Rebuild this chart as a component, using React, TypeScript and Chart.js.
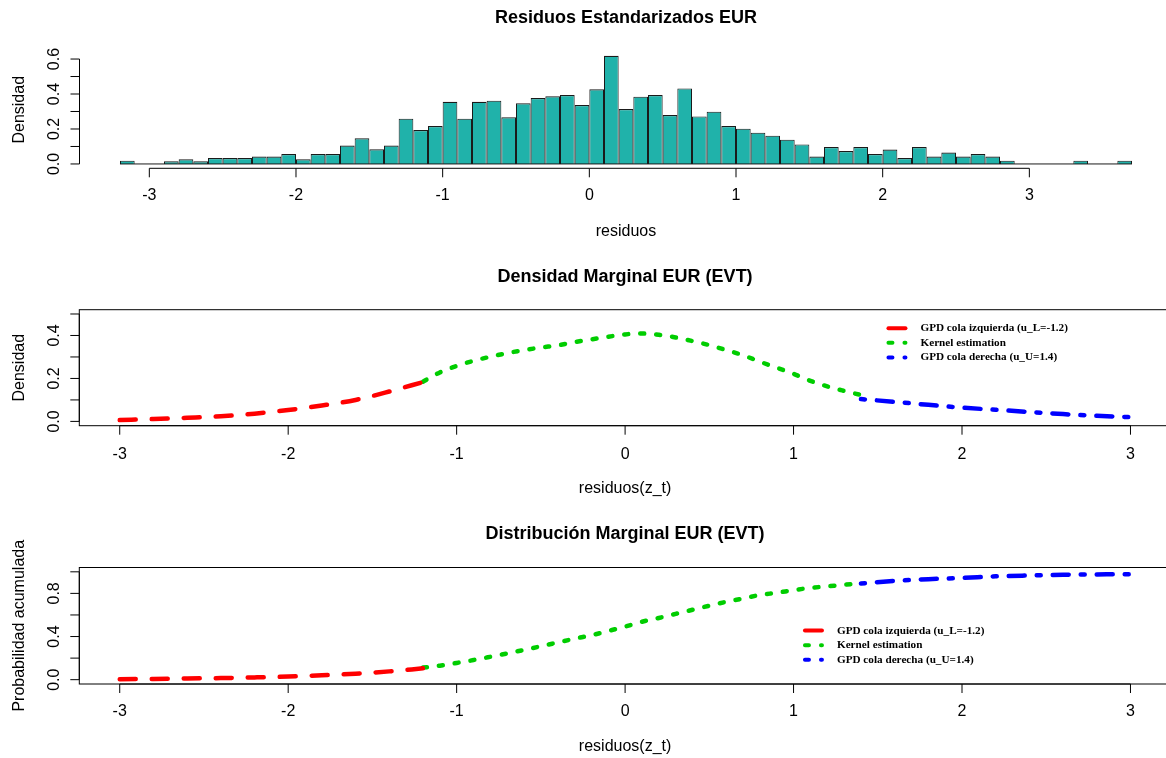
import React, { useEffect, useRef } from "react";
import { Chart, registerables } from "chart.js";

Chart.register(...registerables);

// ---------------- data ----------------
const histBreaks = [
  -3.2, -3.1, -3.0, -2.9, -2.8, -2.7, -2.6, -2.5, -2.4, -2.3, -2.2, -2.1, -2.0, -1.9, -1.8, -1.7, -1.6, -1.5,
  -1.4, -1.3, -1.2, -1.1, -1.0, -0.9, -0.8, -0.7, -0.6, -0.5, -0.4, -0.3, -0.2, -0.1, 0.0, 0.1, 0.2, 0.3,
  0.4, 0.5, 0.6, 0.7, 0.8, 0.9, 1.0, 1.1, 1.2, 1.3, 1.4, 1.5, 1.6, 1.7, 1.8, 1.9, 2.0, 2.1, 2.2, 2.3,
  2.4, 2.5, 2.6, 2.7, 2.8, 2.9, 3.0, 3.1, 3.2, 3.3, 3.4, 3.5, 3.6, 3.7,
];
const histDensity = [
  0.019, 0, 0, 0.015, 0.027, 0.015, 0.034, 0.034, 0.034, 0.042, 0.042, 0.057, 0.027, 0.057, 0.057, 0.105,
  0.147, 0.084, 0.105, 0.259, 0.194, 0.217, 0.356, 0.259, 0.356, 0.362, 0.267, 0.347, 0.377, 0.387, 0.394,
  0.337, 0.427, 0.619, 0.314, 0.385, 0.394, 0.28, 0.432, 0.272, 0.299, 0.217, 0.202, 0.179, 0.162, 0.139,
  0.112, 0.042, 0.097, 0.074, 0.097, 0.057, 0.082, 0.034, 0.097, 0.042, 0.065, 0.042, 0.057, 0.042, 0.019,
  0, 0, 0, 0, 0.019, 0, 0, 0.019,
];

const xTicks = [-3, -2, -1, 0, 1, 2, 3];
const histYTicks = [0, 0.1, 0.2, 0.3, 0.4, 0.5, 0.6];
const histYLabels = [0, 0.2, 0.4, 0.6];
const densYTicks = [0, 0.1, 0.2, 0.3, 0.4, 0.5];
const densYLabels = [0, 0.2, 0.4];
const cdfYTicks = [0, 0.2, 0.4, 0.6, 0.8, 1.0];
const cdfYLabels = [0, 0.4, 0.8];

const leftTailX = [-3.0, -2.8, -2.6, -2.4, -2.2, -2.0, -1.8, -1.6, -1.4, -1.2];
const leftTailDens = [0.006, 0.011, 0.017, 0.024, 0.036, 0.053, 0.074, 0.1, 0.139, 0.183];
const leftTailCdf = [0.005, 0.007, 0.011, 0.015, 0.021, 0.029, 0.041, 0.056, 0.077, 0.105];

const kernelX = [
  -1.2, -1.1, -1.0, -0.9, -0.8, -0.7, -0.6, -0.5, -0.4, -0.3, -0.2, -0.1, 0.0, 0.1, 0.2, 0.3, 0.4, 0.5,
  0.6, 0.7, 0.8, 0.9, 1.0, 1.1, 1.2, 1.3, 1.4,
];
const kernelDens = [
  0.185, 0.228, 0.258, 0.282, 0.301, 0.318, 0.332, 0.344, 0.354, 0.369, 0.382, 0.394, 0.405, 0.409, 0.403,
  0.391, 0.374, 0.355, 0.332, 0.308, 0.278, 0.25, 0.221, 0.189, 0.163, 0.142, 0.123,
];
const kernelCdf = [
  0.112, 0.13, 0.155, 0.182, 0.212, 0.243, 0.276, 0.31, 0.345, 0.38, 0.412, 0.452, 0.492, 0.537, 0.572,
  0.61, 0.648, 0.686, 0.722, 0.753, 0.785, 0.806, 0.83, 0.851, 0.865, 0.88, 0.892,
];

const rightTailX = [1.4, 1.6, 1.8, 2.0, 2.2, 2.4, 2.6, 2.8, 3.0];
const rightTailDens = [0.104, 0.091, 0.077, 0.064, 0.054, 0.044, 0.034, 0.026, 0.02];
const rightTailCdf = [0.892, 0.916, 0.932, 0.943, 0.958, 0.966, 0.973, 0.976, 0.978];

const seriesLabels = ["GPD cola izquierda (u_L=-1.2)", "Kernel estimation", "GPD cola derecha (u_U=1.4)"];
const seriesColors = ["#FF0000", "#00CD00", "#0000FF"];
const seriesDash = [[16, 16], [4, 12], [4, 12, 16, 12]];
const legendDash = [[], [4, 12], [4, 12]];

// ---------------- R-like axes plugin ----------------
const SANS = '"Liberation Sans", Arial, sans-serif';
const SERIF = '"Liberation Serif", "Times New Roman", serif';

const rPlot = {
  id: "rPlot",
  afterDatasetsDraw(chart: any, _args: any, opts: any) {
    if (!opts.baseline) return;
    const { ctx, scales } = chart;
    const { x, y } = scales;
    ctx.save();
    ctx.strokeStyle = "#1a1a1a";
    ctx.lineWidth = 1;
    const py = y.getPixelForValue(0);
    ctx.beginPath();
    ctx.moveTo(x.getPixelForValue(opts.baseline[0]), py);
    ctx.lineTo(x.getPixelForValue(opts.baseline[1]), py);
    ctx.stroke();
    ctx.restore();
  },
  afterDraw(chart: any, _args: any, opts: any) {
    const { ctx, chartArea: a, scales } = chart;
    const { x, y } = scales;
    const TICK = 9;
    ctx.save();
    ctx.strokeStyle = "#000";
    ctx.fillStyle = "#000";
    ctx.lineWidth = 1;
    if (opts.box) ctx.strokeRect(a.left, a.top, a.right - a.left, a.bottom - a.top);

    // x axis
    const xt: number[] = opts.xTicks;
    ctx.beginPath();
    ctx.moveTo(x.getPixelForValue(xt[0]), a.bottom);
    ctx.lineTo(x.getPixelForValue(xt[xt.length - 1]), a.bottom);
    xt.forEach((t) => {
      const px = x.getPixelForValue(t);
      ctx.moveTo(px, a.bottom);
      ctx.lineTo(px, a.bottom + TICK);
    });
    // y axis
    const yt: number[] = opts.yTicks;
    ctx.moveTo(a.left, y.getPixelForValue(yt[0]));
    ctx.lineTo(a.left, y.getPixelForValue(yt[yt.length - 1]));
    yt.forEach((t) => {
      const py = y.getPixelForValue(t);
      ctx.moveTo(a.left, py);
      ctx.lineTo(a.left - TICK, py);
    });
    ctx.stroke();

    ctx.font = `16px ${SANS}`;
    ctx.textAlign = "center";
    ctx.textBaseline = "middle";
    xt.forEach((t) => ctx.fillText(String(t), x.getPixelForValue(t), a.bottom + opts.xLabelGap));
    (opts.yLabels as number[]).forEach((t) => {
      ctx.save();
      ctx.translate(a.left - 25, y.getPixelForValue(t));
      ctx.rotate(-Math.PI / 2);
      ctx.fillText(t.toFixed(1), 0, 0);
      ctx.restore();
    });

    // axis titles
    const cx = (a.left + a.right) / 2;
    ctx.fillText(opts.xTitle, cx, a.bottom + 63);
    ctx.save();
    ctx.translate(a.left - 60, (a.top + a.bottom) / 2);
    ctx.rotate(-Math.PI / 2);
    ctx.fillText(opts.yTitle, 0, 0);
    ctx.restore();

    // main title
    ctx.font = `bold 18px ${SANS}`;
    ctx.fillText(opts.title, cx, a.top - 33);

    // legend
    if (opts.legend) {
      const lg = opts.legend;
      const lx = x.getPixelForValue(lg.x);
      const ly = y.getPixelForValue(lg.y);
      ctx.font = `bold 11.2px ${SERIF}`;
      ctx.textAlign = "left";
      chart.data.datasets.forEach((ds: any, i: number) => {
        const ry = ly + i * 14.6;
        ctx.save();
        ctx.strokeStyle = ds.borderColor;
        ctx.lineWidth = 4;
        ctx.lineCap = "round";
        ctx.setLineDash(lg.dash[i]);
        ctx.beginPath();
        ctx.moveTo(lx + 2, ry);
        ctx.lineTo(lx + 19, ry);
        ctx.stroke();
        ctx.restore();
        ctx.fillStyle = "#000";
        ctx.fillText(ds.label, lx + 34, ry);
      });
    }
    ctx.restore();
  },
};

// ---------------- configs ----------------
const CANVAS_W = 1180;

function lineDataset(xs: number[], ys: number[], i: number) {
  return {
    label: seriesLabels[i],
    data: xs.map((v, k) => ({ x: v, y: ys[k] })),
    borderColor: seriesColors[i],
    backgroundColor: seriesColors[i],
    borderWidth: 4.5,
    borderDash: seriesDash[i],
    borderCapStyle: "round",
    borderJoinStyle: "round",
    pointRadius: 0,
    fill: false,
    cubicInterpolationMode: "monotone",
  };
}

function baseOptions(padding: any, xr: number[], yr: number[], rp: any) {
  return {
    animation: false,
    responsive: false,
    devicePixelRatio: 1,
    events: [],
    layout: { padding },
    scales: {
      x: { type: "linear", min: xr[0], max: xr[1], offset: false, display: false },
      y: { type: "linear", min: yr[0], max: yr[1], display: false },
    },
    plugins: { legend: { display: false }, tooltip: { enabled: false }, title: { display: false }, rPlot: rp },
  };
}

function histConfig(): any {
  const bars = histDensity.map((d, i) => ({ x: (histBreaks[i] + histBreaks[i + 1]) / 2, y: d }));
  return {
    type: "bar",
    data: {
      datasets: [
        {
          label: "residuos",
          data: bars,
          backgroundColor: "#20B2AA",
          borderColor: "#1a1a1a",
          borderWidth: { top: 1.2, left: 1, right: 1, bottom: 0 },
          borderSkipped: false,
          categoryPercentage: 1,
          barPercentage: 1,
          grouped: false,
          inflateAmount: 0,
        },
      ],
    },
    options: baseOptions(
      { left: 79.5, top: 51.2, right: 7.5, bottom: 84.7 },
      [-3.476, 3.976],
      [-0.0248, 0.6448],
      {
        title: "Residuos Estandarizados EUR",
        xTitle: "residuos",
        yTitle: "Densidad",
        xTicks,
        yTicks: histYTicks,
        yLabels: histYLabels,
        xLabelGap: 27,
        box: false,
        baseline: [histBreaks[0], histBreaks[histBreaks.length - 1]],
      }
    ),
    plugins: [rPlot],
  };
}

function densConfig(): any {
  return {
    type: "line",
    data: {
      datasets: [
        lineDataset(leftTailX, leftTailDens, 0),
        lineDataset(kernelX, kernelDens, 1),
        lineDataset(rightTailX, rightTailDens, 2),
      ],
    },
    options: baseOptions(
      { left: 79.3, top: 56.7, right: 9.1, bottom: 79.3 },
      [-3.24, 3.24],
      [-0.02, 0.52],
      {
        title: "Densidad Marginal EUR (EVT)",
        xTitle: "residuos(z_t)",
        yTitle: "Densidad",
        xTicks,
        yTicks: densYTicks,
        yLabels: densYLabels,
        xLabelGap: 29,
        box: true,
        legend: { x: 1.5515, y: 0.4336, dash: legendDash },
      }
    ),
    plugins: [rPlot],
  };
}

function cdfConfig(): any {
  return {
    type: "line",
    data: {
      datasets: [
        lineDataset(leftTailX, leftTailCdf, 0),
        lineDataset(kernelX, kernelCdf, 1),
        lineDataset(rightTailX, rightTailCdf, 2),
      ],
    },
    options: baseOptions(
      { left: 79.3, top: 62.5, right: 9.1, bottom: 74 },
      [-3.24, 3.24],
      [-0.04, 1.04],
      {
        title: "Distribución Marginal EUR (EVT)",
        xTitle: "residuos(z_t)",
        yTitle: "Probabilidad acumulada",
        xTicks,
        yTicks: cdfYTicks,
        yLabels: cdfYLabels,
        xLabelGap: 28,
        box: true,
        legend: { x: 1.0558, y: 0.455, dash: legendDash },
      }
    ),
    plugins: [rPlot],
  };
}

function Panel({ make, top, height }: { make: () => any; top: number; height: number }) {
  const ref = useRef<HTMLCanvasElement>(null);
  useEffect(() => {
    const chart = new Chart(ref.current as HTMLCanvasElement, make());
    return () => chart.destroy();
  }, []);
  return (
    <canvas
      ref={ref}
      width={CANVAS_W}
      height={height}
      style={{ position: "absolute", left: 0, top, display: "block", width: CANVAS_W, height }}
    />
  );
}

export default function App() {
  return (
    <div
      style={{
        position: "fixed",
        left: 0,
        top: 0,
        width: 1166,
        height: 758,
        overflow: "hidden",
        background: "#fff",
      }}
    >
      <Panel make={histConfig} top={0} height={253} />
      <Panel make={densConfig} top={253} height={252} />
      <Panel make={cdfConfig} top={505} height={253} />
    </div>
  );
}
